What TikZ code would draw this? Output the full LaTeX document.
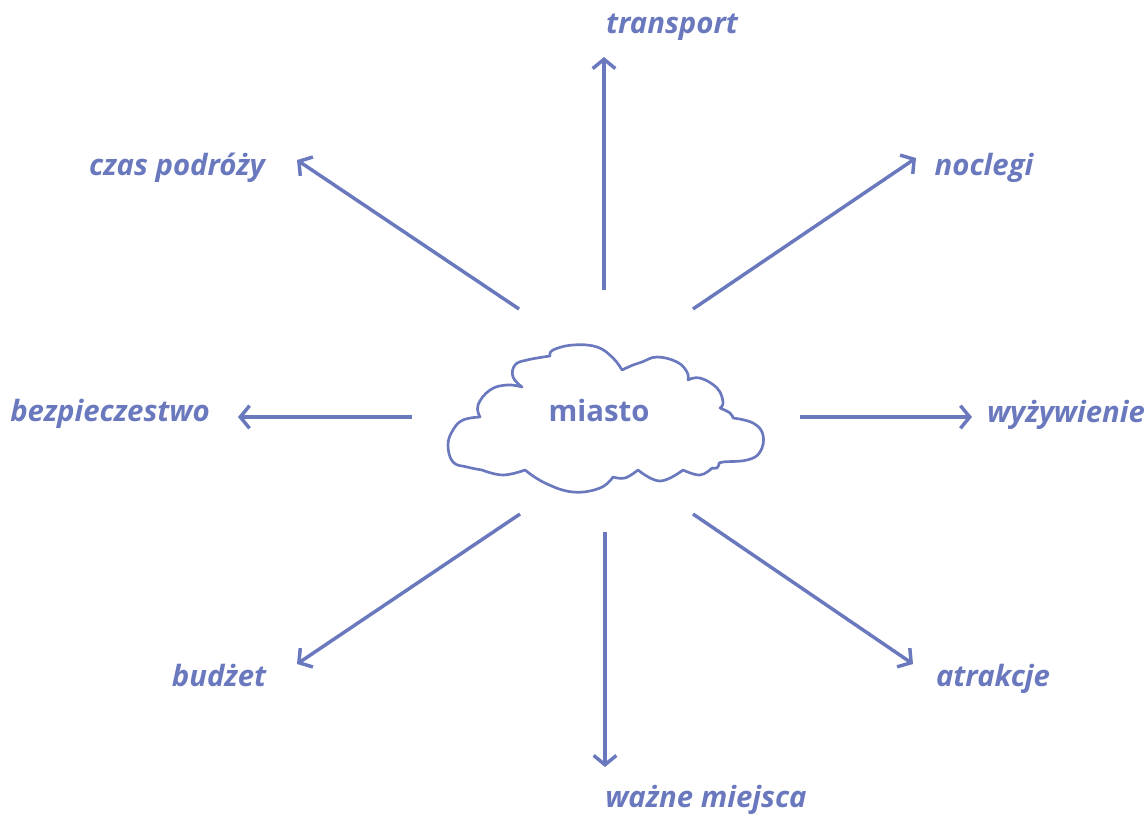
\documentclass[tikz,border=0pt]{standalone}
\usepackage{fontspec}
\setmainfont{Open Sans}
\usetikzlibrary{arrows.meta}
\definecolor{ink}{RGB}{106,120,190}
\tikzset{
  lbl/.style={font=\fontsize{22}{26}\selectfont\bfseries\itshape, text=ink, inner sep=0pt, anchor=base},
  conn/.style={draw=ink, line width=2.6pt, -{Straight Barb[length=7pt,width=17pt,line width=2.6pt]}},
  lobe/.style={smooth, tension=0.7},
}
\begin{document}
\begin{tikzpicture}[x=0.75pt,y=-0.75pt]
\useasboundingbox (0,0) rectangle (1148,814);
% cloud
\draw[ink, line width=2pt, line join=round, line cap=round]
 plot[lobe] coordinates {(480,417) (478,405) (490,390) (507,385) (522,387)}
 plot[lobe] coordinates {(522,387) (513,377) (515,365) (527,360) (550,356)}
 plot[lobe] coordinates {(550,356) (553,350) (573,345) (597,347) (613,358) (622,370)}
 plot[lobe] coordinates {(622,370) (633,365) (642,362) (657,357) (677,362) (687,372) (688,380)}
 plot[lobe] coordinates {(688,380) (700,378) (717,388) (723,402) (720,408)}
 plot[lobe] coordinates {(720,408) (730,413) (733,418)}
 plot[lobe] coordinates {(733,418) (753,423) (763,435) (760,452) (747,460) (723,462) (719,464)}
 plot[lobe] coordinates {(719,464) (717,468) (712,468)}
 plot[lobe] coordinates {(712,468) (700,475) (683,470)}
 plot[lobe] coordinates {(683,470) (660,481) (638,470)}
 plot[lobe] coordinates {(638,470) (625,478) (613,477)}
 plot[lobe] coordinates {(613,477) (600,488) (573,492) (545,483) (525,470)}
 plot[lobe] coordinates {(525,470) (503,475) (482,470)}
 plot[lobe] coordinates {(482,470) (467,467) (453,462) (448,445) (453,430) (463,420) (480,417)};
\node[lbl, font=\fontsize{22}{26}\selectfont\bfseries] (miasto) at (599,421) {miasto};
% labels
\node[lbl] (transport) at (672,33) {transport};
\node[lbl] (czas) at (177,175) {czas podróży};
\node[lbl] (noclegi) at (984,175) {noclegi};
\node[lbl] (bezp) at (110,421) {bezpieczestwo};
\node[lbl] (wyz) at (1066,422) {wyżywienie};
\node[lbl] (budzet) at (219,686) {budżet};
\node[lbl] (atrakcje) at (993,686) {atrakcje};
\node[lbl] (wazne) at (706,807) {ważne miejsca};
% connector ends
\coordinate (s1) at (604,290); \coordinate (e1) at (604,57);
\coordinate (s2) at (519,309); \coordinate (e2) at (297,160);
\coordinate (s3) at (693,309); \coordinate (e3) at (916,158);
\coordinate (s4) at (412,417); \coordinate (e4) at (238,417);
\coordinate (s5) at (800,417); \coordinate (e5) at (972,417);
\coordinate (s6) at (520,514); \coordinate (e6) at (297,664);
\coordinate (s7) at (693,514); \coordinate (e7) at (913,664);
\coordinate (s8) at (605,532); \coordinate (e8) at (605,767);
\foreach \i in {1,...,8} { \draw[conn] (s\i) -- (e\i); }
\end{tikzpicture}
\end{document}
